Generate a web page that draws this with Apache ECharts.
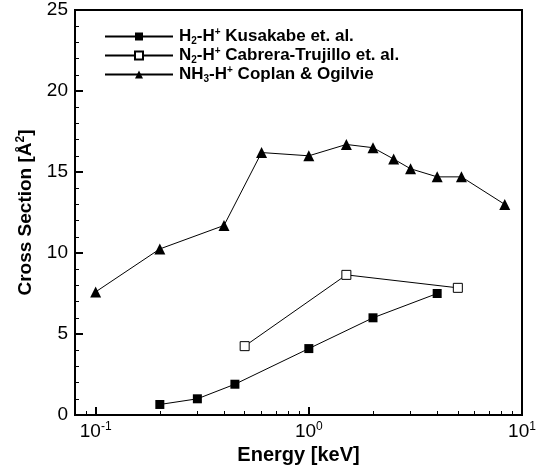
<!DOCTYPE html>
<html>
<head>
<meta charset="utf-8">
<script src="https://cdn.jsdelivr.net/npm/echarts@6/dist/echarts.min.js"></script>
<style>
html, body { margin: 0; padding: 0; background: #fff; }
#chart { width: 541px; height: 473px; }
</style>
</head>
<body>
<div id="chart"></div>
<script>
// energies in keV, cross sections in A^2
var h2Energy = [0.2, 0.3, 0.45, 1.0, 2.0, 4.0];
var h2Cross = [0.65, 1.0, 1.9, 4.1, 6.0, 7.5];

var n2Energy = [0.5, 1.5, 5.0];
var n2Cross = [4.25, 8.65, 7.85];

var nh3Energy = [0.1, 0.2, 0.4, 0.6, 1.0, 1.5, 2.0, 2.5, 3.0, 4.0, 5.2, 8.3];
var nh3Cross = [7.6, 10.25, 11.7, 16.2, 16.0, 16.7, 16.5, 15.8, 15.2, 14.7, 14.7, 13.0];

var xMajorTicks = [0.1, 1, 10];
var xMinorTicks = [0.08, 0.09, 0.2, 0.3, 0.4, 0.5, 0.6, 0.7, 0.8, 0.9, 2, 3, 4, 5, 6, 7, 8, 9];

var seriesNames = ['h2', 'n2', 'nh3'];
var legendLabels = {
	h2: '{b|H}{sub|2}{b|-H}{sup|+}{b| Kusakabe et. al.}',
	n2: '{b|N}{sub|2}{b|-H}{sup|+}{b| Cabrera-Trujillo et. al.}',
	nh3: '{b|NH}{sub|3}{b|-H}{sup|+}{b| Coplan & Ogilvie}'
};

function pairs(xs, ys) {
	var out = [];
	for (var i = 0; i < xs.length; i++) out.push([xs[i], ys[i]]);
	return out;
}

var gridBox = { left: 75, right: 19, top: 10, bottom: 58 };
var font = 'Liberation Sans';

var chart = echarts.init(document.getElementById('chart'));

var option = {
	animation: false,
	backgroundColor: '#fff',
	grid: [
		{ left: gridBox.left, right: gridBox.right, top: gridBox.top, bottom: gridBox.bottom,
		  show: true, borderColor: '#000', borderWidth: 2 },
		{ left: gridBox.left, right: gridBox.right, top: gridBox.top, bottom: gridBox.bottom }
	],
	legend: {
		orient: 'vertical',
		left: 104,
		top: 27,
		padding: 0,
		itemWidth: 68,
		itemHeight: 10,
		itemGap: 0,
		data: seriesNames,
		formatter: function (name) { return legendLabels[name]; },
		textStyle: {
			color: '#000',
			padding: [0, 0, 0, 1],
			rich: {
				b: { fontFamily: font, fontWeight: 'bold', fontSize: 17, lineHeight: 19, color: '#000' },
				sub: { fontFamily: font, fontWeight: 'bold', fontSize: 10, lineHeight: 9, verticalAlign: 'bottom', color: '#000' },
				sup: { fontFamily: font, fontWeight: 'bold', fontSize: 10, lineHeight: 10, verticalAlign: 'top', color: '#000' }
			}
		}
	},
	xAxis: [{
		type: 'log',
		logBase: 10,
		gridIndex: 0,
		min: 0.08,
		max: 10,
		name: 'Energy [keV]',
		nameLocation: 'middle',
		nameGap: 29,
		nameTextStyle: { fontFamily: font, fontWeight: 'bold', fontSize: 20, color: '#000' },
		axisLine: { lineStyle: { color: '#000', width: 2 } },
		axisTick: { inside: true, length: 8, customValues: xMajorTicks, lineStyle: { color: '#000', width: 2 } },
		axisLabel: {
			margin: 6,
			customValues: xMajorTicks,
			formatter: function (v) {
				return '{b|10}{s|' + Math.round(Math.log10(v)) + '}';
			},
			rich: {
				b: { fontFamily: font, fontSize: 19, lineHeight: 21, color: '#000' },
				s: { fontFamily: font, fontSize: 12, lineHeight: 12, verticalAlign: 'top', color: '#000' }
			}
		},
		splitLine: { show: false }
	}, {
		type: 'log',
		logBase: 10,
		gridIndex: 1,
		min: 0.08,
		max: 10,
		axisLine: { show: false },
		axisTick: { inside: true, length: 4, customValues: xMinorTicks, lineStyle: { color: '#000', width: 1 } },
		axisLabel: { show: false },
		splitLine: { show: false }
	}],
	yAxis: [{
		type: 'value',
		gridIndex: 0,
		min: 0,
		max: 25,
		interval: 5,
		name: '{n|Cross Section [Å}{s|2}{n|]}',
		nameLocation: 'middle',
		nameRotate: 90,
		nameGap: 38,
		nameTextStyle: {
			rich: {
				n: { fontFamily: font, fontWeight: 'bold', fontSize: 19, lineHeight: 22, color: '#000' },
				s: { fontFamily: font, fontWeight: 'bold', fontSize: 12, lineHeight: 12, verticalAlign: 'top', color: '#000' }
			}
		},
		axisLine: { show: true, lineStyle: { color: '#000', width: 2 } },
		axisTick: { show: true, inside: true, length: 8, lineStyle: { color: '#000', width: 2 } },
		minorTick: { show: true, splitNumber: 5, length: 4, lineStyle: { color: '#000', width: 1 } },
		axisLabel: { margin: 7, fontFamily: font, fontSize: 19, color: '#000' },
		splitLine: { show: false }
	}, {
		type: 'value',
		gridIndex: 1,
		min: 0,
		max: 25,
		show: false
	}],
	series: [{
		name: 'h2',
		type: 'line',
		xAxisIndex: 0,
		yAxisIndex: 0,
		data: pairs(h2Energy, h2Cross),
		symbol: 'rect',
		symbolSize: 9,
		itemStyle: { color: '#000' },
		lineStyle: { color: '#000', width: 1 }
	}, {
		name: 'n2',
		type: 'line',
		xAxisIndex: 0,
		yAxisIndex: 0,
		data: pairs(n2Energy, n2Cross),
		symbol: 'rect',
		symbolSize: 9,
		showAllSymbol: true,
		itemStyle: { color: '#fff', borderColor: '#000', borderWidth: 1 },
		lineStyle: { color: '#000', width: 1 }
	}, {
		name: 'nh3',
		type: 'line',
		xAxisIndex: 0,
		yAxisIndex: 0,
		data: pairs(nh3Energy, nh3Cross),
		symbol: 'triangle',
		symbolSize: 11,
		itemStyle: { color: '#000' },
		lineStyle: { color: '#000', width: 1 }
	}]
};

chart.setOption(option);
</script>
</body>
</html>
